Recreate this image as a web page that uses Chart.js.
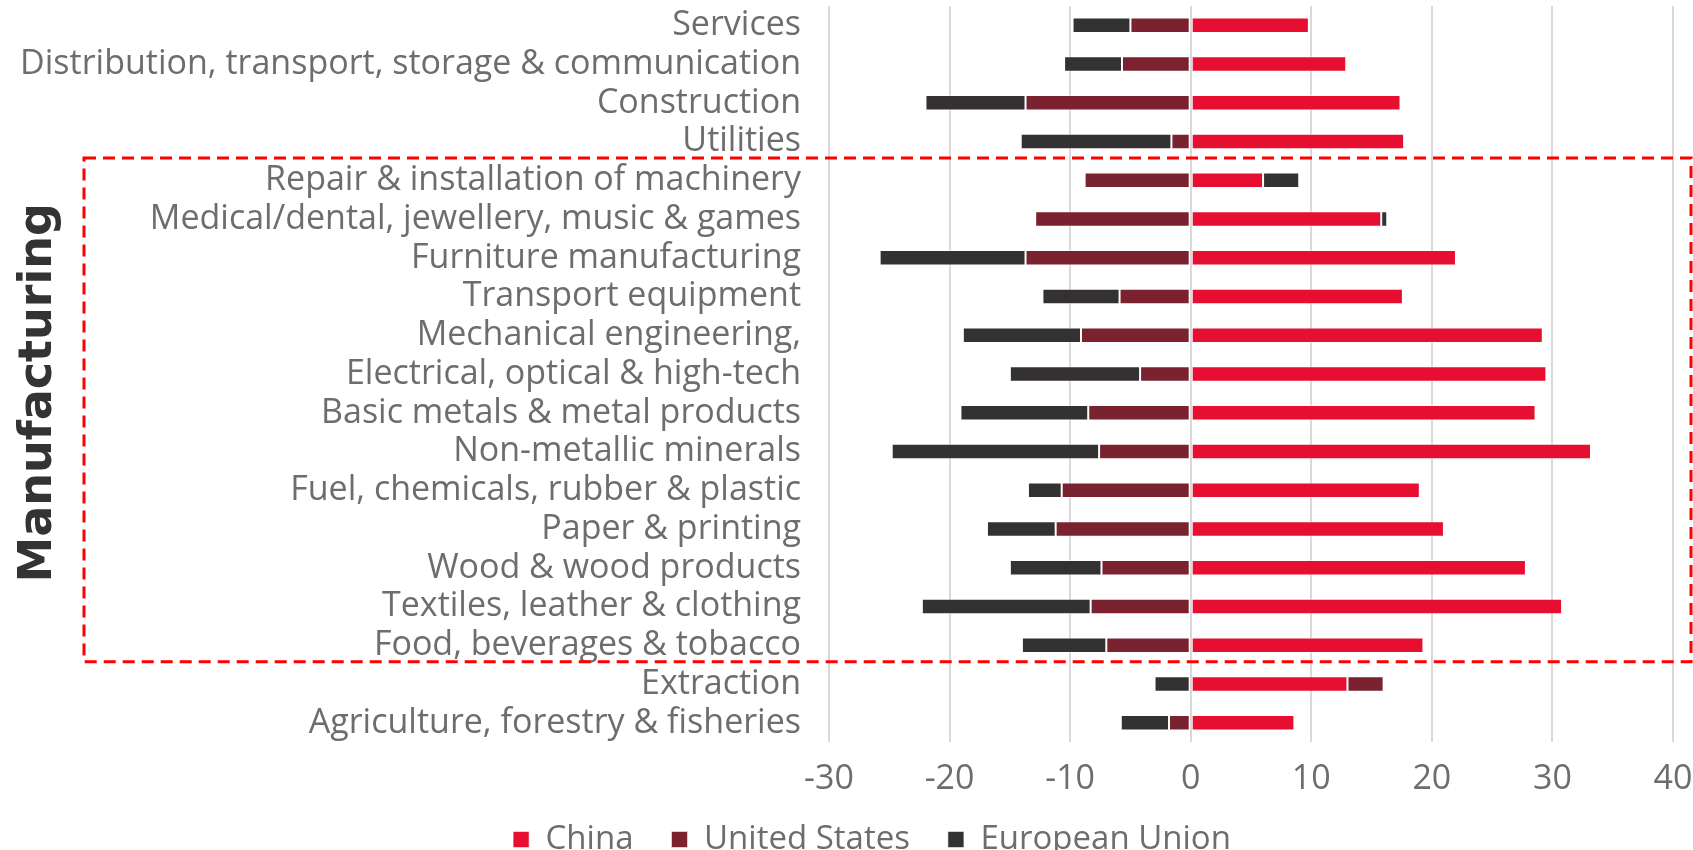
<!DOCTYPE html>
<html>
<head>
<meta charset="utf-8">
<script src="https://cdn.jsdelivr.net/npm/chart.js@4"></script>
<style>
  html, body { margin: 0; padding: 0; background: #fff; overflow: hidden; }
  canvas { display: block; }
</style>
</head>
<body>
<canvas id="chart" width="1693" height="898"></canvas>
<script>
// sectors, listed top to bottom
const sectors = [
    'Services',
    'Distribution, transport, storage & communication',
    'Construction',
    'Utilities',
    'Repair & installation of machinery',
    'Medical/dental, jewellery, music & games',
    'Furniture manufacturing',
    'Transport equipment',
    'Mechanical engineering,',
    'Electrical, optical & high-tech',
    'Basic metals & metal products',
    'Non-metallic minerals',
    'Fuel, chemicals, rubber & plastic',
    'Paper & printing',
    'Wood & wood products',
    'Textiles, leather & clothing',
    'Food, beverages & tobacco',
    'Extraction',
    'Agriculture, forestry & fisheries'
];

const china = [9.8, 12.9, 17.4, 17.7, 6.0, 15.8, 22.0, 17.6, 29.2, 29.5, 28.6, 33.2, 19.0, 21.0, 27.8, 30.8, 19.3, 13.0, 8.6];
const unitedStates = [-5.0, -5.7, -13.7, -1.6, -8.8, -12.9, -13.7, -5.9, -9.1, -4.2, -8.5, -7.6, -10.7, -11.2, -7.4, -8.3, -7.0, 3.0, -1.8];
const europeanUnion = [-4.8, -4.8, -8.3, -12.5, 3.0, 0.5, -12.1, -6.4, -9.8, -10.8, -10.6, -17.2, -2.8, -5.7, -7.6, -14.0, -7.0, -3.0, -4.0];

const xMin = -30;
const xMax = 40;
const xStep = 10;

// rows that belong to the manufacturing group
const manufacturingRows = { first: 4, last: 16 };

const labelColor = '#6d6d6d';
const labelFont = '"Open Sans"';

// legend sits a little right of centre and tucked up under the axis
const legendNudge = {
    id: 'legendNudge',
    afterLayout(chart) {
        const lg = chart.legend;
        lg.left += 61;
        lg.top -= 32;
        lg.bottom -= 32;
    }
};

const manufacturingBox = {
    id: 'manufacturingBox',
    afterDraw(chart) {
        const { ctx, scales: { y } } = chart;
        const top = (y.getPixelForValue(manufacturingRows.first - 1) + y.getPixelForValue(manufacturingRows.first)) / 2 - 3;
        const bottom = (y.getPixelForValue(manufacturingRows.last) + y.getPixelForValue(manufacturingRows.last + 1)) / 2 - 3;
        const left = 84;
        const right = chart.width - 2;

        ctx.save();
        ctx.strokeStyle = '#ff0000';
        ctx.lineWidth = 3;
        ctx.setLineDash([12, 7]);
        ctx.strokeRect(left, top, right - left, bottom - top);
        ctx.setLineDash([]);

        ctx.translate(51, (top + bottom) / 2 - 17);
        ctx.rotate(-Math.PI / 2);
        ctx.font = 'bold 46px "DejaVu Sans"';
        ctx.fillStyle = '#333333';
        ctx.textAlign = 'center';
        ctx.textBaseline = 'alphabetic';
        ctx.fillText('Manufacturing', 0, 0);
        ctx.restore();
    }
};

const ctx = document.getElementById('chart').getContext('2d');
new Chart(ctx, {
    type: 'bar',
    data: {
        labels: sectors,
        datasets: [
            { label: 'China', data: china, backgroundColor: '#e60f31' },
            { label: 'United States', data: unitedStates, backgroundColor: '#7a2230' },
            { label: 'European Union', data: europeanUnion, backgroundColor: '#333132' }
        ].map(ds => ({
            ...ds,
            borderColor: 'rgba(255, 255, 255, 0.55)',
            borderWidth: 1,
            borderSkipped: false,
            barPercentage: 0.4,
            categoryPercentage: 1.0
        }))
    },
    options: {
        indexAxis: 'y',
        responsive: false,
        animation: false,
        devicePixelRatio: 1,
        layout: {
            padding: { top: 6, right: 20, left: 10, bottom: 0 }
        },
        scales: {
            x: {
                stacked: true,
                min: xMin,
                max: xMax,
                afterFit: scale => {
                    scale.paddingLeft = 0;
                    scale.paddingRight = 0;
                },
                grid: {
                    color: '#d9d9d9',
                    lineWidth: 2,
                    drawTicks: false
                },
                border: { display: false },
                ticks: {
                    stepSize: xStep,
                    padding: 17,
                    color: labelColor,
                    font: { family: labelFont, size: 34 }
                }
            },
            y: {
                stacked: true,
                afterFit: scale => {
                    scale.width = 819;
                    scale.paddingTop = 0;
                    scale.paddingBottom = 0;
                },
                grid: { display: false, drawTicks: false },
                border: { display: false },
                ticks: {
                    padding: 28,
                    autoSkip: false,
                    color: labelColor,
                    font: { family: labelFont, size: 34 }
                }
            }
        },
        plugins: {
            legend: {
                position: 'bottom',
                labels: {
                    boxWidth: 16,
                    boxHeight: 16,
                    padding: 38,
                    color: labelColor,
                    font: { family: labelFont, size: 33 }
                }
            },
            tooltip: { enabled: false }
        }
    },
    plugins: [legendNudge, manufacturingBox]
});
</script>
</body>
</html>
